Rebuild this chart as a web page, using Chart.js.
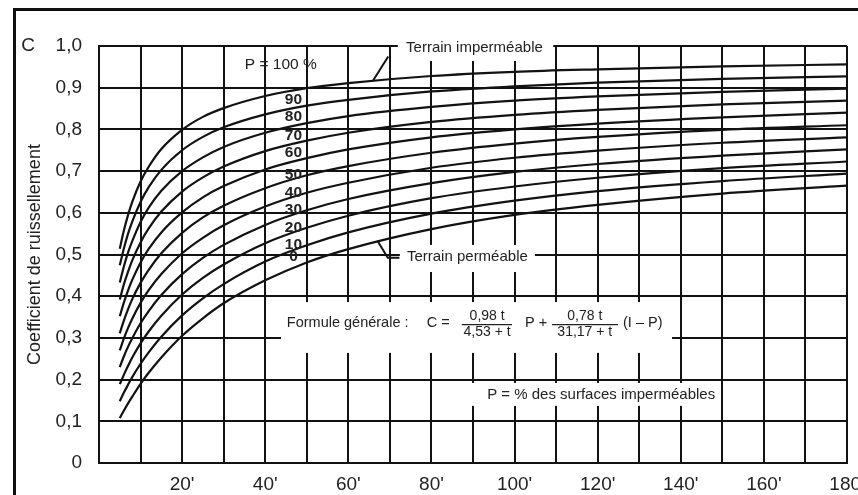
<!DOCTYPE html>
<html>
<head>
<meta charset="utf-8">
<script src="https://cdn.jsdelivr.net/npm/chart.js@4/dist/chart.umd.min.js"></script>
<style>
  html, body { margin: 0; padding: 0; background: #fff; overflow: hidden; }
  canvas { display: block; }
</style>
</head>
<body>
<canvas id="chart" width="858" height="495"></canvas>
<script>
// durée t (minutes)
const times = [5, 6, 7, 8, 10, 12, 15, 20, 25, 30, 40, 50, 60, 80, 100, 120, 150, 180];

// coefficient C, P = % imperméable
const c0   = [.108, .126, .143, .159, .190, .217, .253, .305, .347, .383, .438, .481, .513, .561, .595, .619, .646, .665];
const c10  = [.148, .169, .188, .206, .238, .266, .303, .354, .395, .429, .483, .522, .553, .598, .629, .652, .676, .694];
const c20  = [.189, .212, .233, .253, .287, .316, .353, .404, .444, .476, .527, .564, .593, .635, .663, .684, .707, .723];
const c30  = [.230, .256, .279, .299, .335, .365, .403, .453, .492, .523, .571, .606, .633, .671, .698, .717, .737, .752];
const c40  = [.270, .299, .324, .346, .384, .415, .453, .503, .540, .570, .615, .648, .672, .708, .732, .749, .768, .781];
const c50  = [.311, .342, .369, .393, .432, .464, .503, .552, .589, .617, .659, .690, .712, .744, .766, .782, .799, .810];
const c60  = [.352, .385, .414, .439, .481, .514, .553, .601, .637, .664, .704, .731, .752, .781, .800, .814, .829, .840];
const c70  = [.392, .429, .459, .486, .529, .563, .603, .651, .685, .711, .748, .773, .792, .818, .835, .847, .860, .869];
const c80  = [.433, .472, .505, .532, .578, .613, .653, .700, .733, .758, .792, .815, .832, .854, .869, .879, .890, .898];
const c90  = [.474, .515, .550, .579, .626, .662, .703, .750, .782, .805, .836, .857, .871, .891, .903, .912, .921, .927];
const c100 = [.514, .558, .595, .626, .675, .711, .753, .799, .830, .851, .880, .899, .911, .928, .938, .944, .951, .956];

const pValues = [0, 10, 20, 30, 40, 50, 60, 70, 80, 90, 100];
const curves = [c0, c10, c20, c30, c40, c50, c60, c70, c80, c90, c100];

// tick labels
const yTickLabels = ["0", "0,1", "0,2", "0,3", "0,4", "0,5", "0,6", "0,7", "0,8", "0,9", "1,0"];
const xTickLabels = ["20'", "40'", "60'", "80'", "100'", "120'", "140'", "160'", "180'"];

// where the P labels sit on the curves (C value of label centre), P = 0..90
const curveLabelC = [.494, .523, .564, .607, .648, .691, .743, .786, .830, .871];

const ink = "#121212";
const textInk = "#222";
const family = '"Liberation Sans", Arial, sans-serif';

const datasets = curves.map((vals, i) => ({
    label: "P = " + pValues[i] + " %",
    data: times.map((t, k) => ({ x: t, y: vals[k] })),
    borderColor: ink,
    borderWidth: 2.2,
    pointRadius: 0,
    fill: false,
    cubicInterpolationMode: "monotone"
}));

// white patches behind the texts (t1, c1, t2, c2)
const blanks = [
    [43.8, .386, 137.9, .264],   // formule
    [72.4, .523, 104.9, .458],   // terrain perméable
    [88.8, .192, 149.2, .137],   // P = % des surfaces
    [71.9, 1.03, 109.3, .964]    // terrain imperméable
];

const notes = {
    id: "notes",
    beforeDatasetsDraw(chart) {
        const { ctx, scales: { x, y } } = chart;
        ctx.save();
        ctx.fillStyle = "#fff";
        blanks.forEach(b => {
            const x1 = x.getPixelForValue(b[0]), y1 = y.getPixelForValue(b[1]);
            const x2 = x.getPixelForValue(b[2]), y2 = y.getPixelForValue(b[3]);
            ctx.fillRect(x1, y1, x2 - x1, y2 - y1);
        });
        ctx.restore();
    },
    afterDatasetsDraw(chart) {
        const { ctx, scales: { x, y } } = chart;
        const px = t => x.getPixelForValue(t);
        const py = c => y.getPixelForValue(c);
        ctx.save();
        ctx.fillStyle = textInk;
        ctx.textBaseline = "middle";

        // curve labels
        ctx.font = "bold 15.5px " + family;
        ctx.textAlign = "center";
        curveLabelC.forEach((c, i) => {
            ctx.fillText(String(pValues[i]), px(46.8), py(c));
        });
        ctx.font = "15.5px " + family;
        ctx.textAlign = "left";
        ctx.fillText("P = 100 %", px(35.1), py(.954));

        // leaders
        ctx.strokeStyle = ink;
        ctx.lineWidth = 2;
        ctx.beginPath();
        ctx.moveTo(px(66), py(.918));
        ctx.lineTo(px(69.6), py(.975));
        ctx.stroke();
        ctx.beginPath();
        ctx.moveTo(px(67), py(.533));
        ctx.lineTo(px(69.5), py(.492));
        ctx.lineTo(px(72.3), py(.492));
        ctx.stroke();

        ctx.font = "15px " + family;
        ctx.fillText("Terrain imperméable", px(73.9), py(.995));
        ctx.fillText("Terrain perméable", px(74.1), py(.494));
        ctx.fillText("P = % des surfaces imperméables", px(93.4), py(.164));

        // formule générale
        ctx.font = "14.5px " + family;
        ctx.fillText("Formule générale :", px(45.2), py(.336));
        ctx.fillText("C =", px(78.9), py(.336));
        ctx.fillText("P +", px(102.5), py(.336));
        ctx.fillText("(I – P)", px(126.1), py(.336));
        ctx.font = "14px " + family;
        ctx.textAlign = "center";
        ctx.fillText("0,98 t", px(93.4), py(.353));
        ctx.fillText("4,53 + t", px(93.4), py(.314));
        ctx.fillText("0,78 t", px(116.9), py(.353));
        ctx.fillText("31,17 + t", px(116.9), py(.314));
        ctx.lineWidth = 1.2;
        ctx.strokeStyle = textInk;
        ctx.beginPath();
        ctx.moveTo(px(87.3), py(.332));
        ctx.lineTo(px(99.4), py(.332));
        ctx.moveTo(px(109), py(.332));
        ctx.lineTo(px(124.9), py(.332));
        ctx.stroke();
        ctx.restore();
    },
    afterDraw(chart) {
        const { ctx, width, height, scales: { y } } = chart;
        ctx.save();
        // frame of the scan
        ctx.fillStyle = "#111";
        ctx.fillRect(13, 8, width - 13, 3);
        ctx.fillRect(13, 8, 3, height - 8);
        // axis letter
        ctx.fillStyle = textInk;
        ctx.font = "19px " + family;
        ctx.textAlign = "center";
        ctx.textBaseline = "middle";
        ctx.fillText("C", 28, y.getPixelForValue(1));
        ctx.restore();
    }
};

new Chart(document.getElementById("chart"), {
    type: "line",
    data: { datasets },
    options: {
        responsive: false,
        animation: false,
        devicePixelRatio: 1,
        layout: { padding: { top: 46, right: 11, bottom: 0, left: 0 } },
        plugins: { legend: { display: false }, tooltip: { enabled: false } },
        scales: {
            x: {
                type: "linear",
                min: 0,
                max: 180,
                grid: { color: ink, lineWidth: 2, drawTicks: false },
                border: { color: ink, width: 2 },
                ticks: {
                    stepSize: 10,
                    autoSkip: false,
                    maxRotation: 0,
                    padding: 10,
                    color: textInk,
                    font: { family, size: 19 },
                    callback: v => (v > 0 && v % 20 === 0) ? xTickLabels[v / 20 - 1] : ""
                },
                afterFit: s => { s.height = 32; s.paddingRight = 0; s.paddingLeft = 0; }
            },
            y: {
                min: 0,
                max: 1,
                grid: { color: ink, lineWidth: 2, drawTicks: false },
                border: { color: ink, width: 2 },
                ticks: {
                    stepSize: 0.1,
                    padding: 17,
                    color: textInk,
                    font: { family, size: 19 },
                    callback: v => yTickLabels[Math.round(v * 10)]
                },
                title: {
                    display: true,
                    text: "Coefficient de ruissellement",
                    color: textInk,
                    font: { family, size: 18 },
                    padding: { top: 24, bottom: 0 }
                },
                afterFit: s => { s.width = 99; }
            }
        }
    },
    plugins: [notes]
});
</script>
</body>
</html>
